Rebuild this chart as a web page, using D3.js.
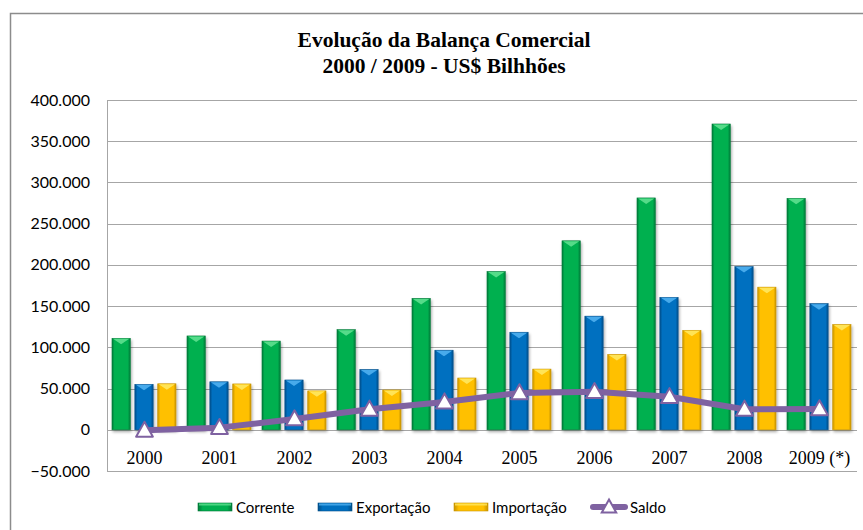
<!DOCTYPE html>
<html>
<head>
<meta charset="utf-8">
<script src="https://cdn.jsdelivr.net/npm/d3@7"></script>
<style>
  html, body { margin: 0; padding: 0; background: #fff; }
  svg { display: block; }
</style>
</head>
<body>
<svg id="chart" width="863" height="530"></svg>
<script>
// Balança comercial, US$ milhões
const years = ["2000", "2001", "2002", "2003", "2004", "2005", "2006", "2007", "2008", "2009 (*)"];
const corrente   = [110900, 113800, 107600, 121400, 159300, 191900, 229200, 281200, 370900, 280700];
const exportacao = [55100, 58200, 60400, 73100, 96500, 118300, 137800, 160600, 197900, 153000];
const importacao = [55800, 55600, 47200, 48300, 62800, 73600, 91400, 120600, 173000, 127700];
const saldo      = [-700, 2600, 13100, 24800, 33600, 44700, 46100, 40000, 24800, 25300];
const yTicks = [-50000, 0, 50000, 100000, 150000, 200000, 250000, 300000, 350000, 400000];
const seriesNames = ["Corrente", "Exportação", "Importação"];

const svg = d3.select("#chart");
const W = 863, H = 530;
const plot = { left: 107, right: 857, top: 100, bottom: 471 };

const colors = {
  Corrente:   { main: "#00b050", dark: "#007a38", light: "#5ee08f" },
  "Exportação": { main: "#0070c0", dark: "#004f8a", light: "#4fb0f0" },
  "Importação": { main: "#ffc000", dark: "#c89400", light: "#ffe860" }
};
const saldoColor = "#7f62a1";

// outer frame
svg.append("rect")
  .attr("x", 10.5).attr("y", 13.5)
  .attr("width", W + 20).attr("height", H + 20)
  .attr("fill", "#fff").attr("stroke", "#8c8c8c").attr("stroke-width", 1.5);

// title
const title = svg.append("text")
  .attr("text-anchor", "middle")
  .attr("font-family", "'Liberation Serif', 'Times New Roman', serif")
  .attr("font-weight", "bold").attr("font-size", 21.5).attr("fill", "#000");
title.append("tspan").attr("x", 444).attr("y", 47).text("Evolução da Balança Comercial");
title.append("tspan").attr("x", 444).attr("y", 73).text("2000 / 2009 - US$ Bilhhões");

// scales
const y = d3.scaleLinear().domain([-50000, 400000]).range([plot.bottom, plot.top]);
const x = d3.scaleBand().domain(years).range([plot.left, plot.right]).paddingInner(0).paddingOuter(0);
const bw = x.bandwidth();
const xs = d3.scaleBand().domain(seriesNames).range([5 / 75 * bw, 69 / 75 * bw]).paddingInner(0.2).paddingOuter(0);

// gradients for bevelled bars
const defs = svg.append("defs");
seriesNames.forEach((name, i) => {
  const c = colors[name];
  const g = defs.append("linearGradient").attr("id", "grad" + i)
    .attr("x1", "0%").attr("x2", "100%").attr("y1", "0%").attr("y2", "0%");
  g.append("stop").attr("offset", "0%").attr("stop-color", c.dark);
  g.append("stop").attr("offset", "14%").attr("stop-color", c.main);
  g.append("stop").attr("offset", "86%").attr("stop-color", c.main);
  g.append("stop").attr("offset", "100%").attr("stop-color", c.dark);
});
const shadow = defs.append("filter").attr("id", "shadow")
  .attr("x", "-30%").attr("y", "-10%").attr("width", "160%").attr("height", "130%");
shadow.append("feGaussianBlur").attr("in", "SourceAlpha").attr("stdDeviation", 1.5).attr("result", "b");
shadow.append("feOffset").attr("in", "b").attr("dx", 1).attr("dy", 2).attr("result", "o");
shadow.append("feComponentTransfer").attr("in", "o").attr("result", "s")
  .append("feFuncA").attr("type", "linear").attr("slope", 0.35);
const fm = shadow.append("feMerge");
fm.append("feMergeNode").attr("in", "s");
fm.append("feMergeNode").attr("in", "SourceGraphic");

// gridlines
svg.append("g").selectAll("line").data(yTicks).join("line")
  .attr("x1", plot.left).attr("x2", plot.right)
  .attr("y1", d => Math.round(y(d)) + 0.5).attr("y2", d => Math.round(y(d)) + 0.5)
  .attr("stroke", "#a6a6a6").attr("stroke-width", 1);
svg.append("line")
  .attr("x1", plot.left + 0.5).attr("x2", plot.left + 0.5)
  .attr("y1", y(400000)).attr("y2", y(-50000))
  .attr("stroke", "#a6a6a6");

// y axis labels
const fmt = d => d === 0 ? "0" : d3.format(",")(d).replace(/,/g, ".");
svg.append("g").selectAll("text").data(yTicks).join("text")
  .attr("x", 90).attr("y", d => y(d) + 5.5)
  .attr("text-anchor", "end")
  .attr("font-family", "Lato, 'Open Sans', sans-serif").attr("font-size", 16).attr("fill", "#000")
  .text(fmt);

// x axis labels
svg.append("g").selectAll("text").data(years).join("text")
  .attr("x", d => x(d) + bw / 2).attr("y", 464)
  .attr("text-anchor", "middle")
  .attr("font-family", "'Liberation Serif', 'Times New Roman', serif").attr("font-size", 18).attr("fill", "#000")
  .text(d => d);

// bars
const seriesData = [corrente, exportacao, importacao];
const barsG = svg.append("g");
seriesNames.forEach((name, si) => {
  const c = colors[name];
  const g = barsG.append("g");
  const rows = years.map((yr, i) => ({ yr, v: seriesData[si][i] }));
  const grp = g.selectAll("g").data(rows).join("g").attr("filter", "url(#shadow)");
  grp.append("rect")
    .attr("x", d => x(d.yr) + xs(name))
    .attr("y", d => y(d.v))
    .attr("width", xs.bandwidth())
    .attr("height", d => y(0) - y(d.v))
    .attr("fill", "url(#grad" + si + ")")
    .attr("stroke", c.dark).attr("stroke-width", 0.6);
  // top bevel
  grp.append("path")
    .attr("d", d => {
      const x0 = x(d.yr) + xs(name), x1 = x0 + xs.bandwidth(), t = y(d.v);
      const xm = (x0 + x1) / 2;
      return `M${x0 + 1},${t + 0.5} L${x1 - 1},${t + 0.5} L${xm},${t + 6} Z`;
    })
    .attr("fill", c.light).attr("opacity", 0.9);
});

// saldo line
const cx = d => x(d) + bw / 2;
svg.append("path")
  .datum(years.map((yr, i) => [cx(yr), y(saldo[i])]))
  .attr("d", d3.line())
  .attr("fill", "none").attr("stroke", saldoColor).attr("stroke-width", 6)
  .attr("stroke-linejoin", "round");

const tri = (px, py, s) => `M${px},${py - s * 0.62} L${px + s * 0.6},${py + s * 0.45} L${px - s * 0.6},${py + s * 0.45} Z`;
svg.append("g").selectAll("path").data(years).join("path")
  .attr("d", (d, i) => tri(cx(d), y(saldo[i]), 14))
  .attr("fill", "#fff").attr("stroke", saldoColor).attr("stroke-width", 2)
  .attr("stroke-linejoin", "round");

// legend
const legend = svg.append("g").attr("font-family", "Lato, 'Open Sans', sans-serif").attr("font-size", 15);
const legendItems = [
  { name: "Corrente", x: 198 },
  { name: "Exportação", x: 318 },
  { name: "Importação", x: 454 }
];
legendItems.forEach((it, i) => {
  const c = colors[it.name];
  legend.append("rect").attr("x", it.x).attr("y", 503).attr("width", 34).attr("height", 8)
    .attr("fill", "url(#grad" + i + ")").attr("stroke", c.dark).attr("stroke-width", 0.6);
  legend.append("rect").attr("x", it.x + 1).attr("y", 503.5).attr("width", 32).attr("height", 2)
    .attr("fill", c.light).attr("opacity", 0.8);
  legend.append("text").attr("x", it.x + 38).attr("y", 513).text(it.name);
});
legend.append("line").attr("x1", 593).attr("x2", 625).attr("y1", 507).attr("y2", 507)
  .attr("stroke", saldoColor).attr("stroke-width", 6).attr("stroke-linecap", "round");
legend.append("path").attr("d", tri(609, 507, 12))
  .attr("fill", "#fff").attr("stroke", saldoColor).attr("stroke-width", 2);
legend.append("text").attr("x", 630).attr("y", 513).text("Saldo");
</script>
</body>
</html>
